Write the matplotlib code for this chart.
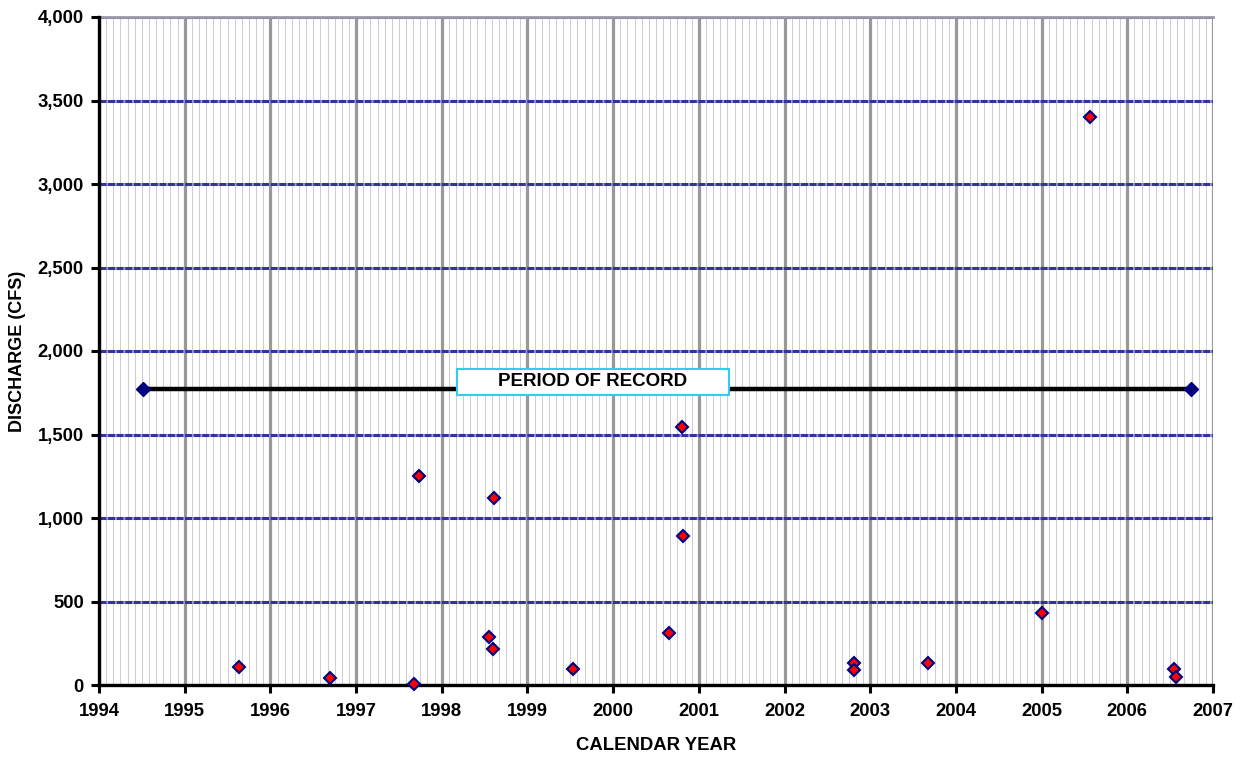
import matplotlib
matplotlib.use("Agg")
import matplotlib.pyplot as plt
from matplotlib.ticker import MultipleLocator, FuncFormatter
from matplotlib.patches import Rectangle

# ---- data ----
sample_year = [1995.63, 1996.70, 1997.68, 1997.74, 1998.55, 1998.60, 1998.61,
               1999.53, 2000.65, 2000.80, 2000.82, 2002.81, 2002.81, 2003.67,
               2005.00, 2005.57, 2006.54, 2006.57]
discharge = [106, 44, 6, 1251, 288, 216, 1117,
             96, 311, 1545, 892, 132, 90, 132,
             431, 3400, 96, 46]
record_years = [1994.51, 2006.74]
record_level = [1775, 1775]
record_label = "PERIOD OF RECORD"
x_label = "CALENDAR YEAR"
y_label = "DISCHARGE (CFS)"
x_min, x_max = 1994, 2007
y_min, y_max = 0, 4000

plt.rcParams['font.family'] = ['Liberation Sans', 'DejaVu Sans']
plt.rcParams['font.weight'] = 'bold'

fig = plt.figure(figsize=(12.44, 7.59), dpi=100)
ax = fig.add_axes([99/1244, 74/759, (1213-99)/1244, (685-17)/759])

ax.set_xlim(x_min, x_max)
ax.set_ylim(y_min, y_max)

# grid
ax.xaxis.set_major_locator(MultipleLocator(1))
ax.xaxis.set_minor_locator(MultipleLocator(1/12))
ax.yaxis.set_major_locator(MultipleLocator(500))
ax.grid(which='minor', axis='x', color='#cfcfcf', lw=0.75, zorder=0)
ax.grid(which='major', axis='x', color='#999999', lw=2.3, zorder=1)
ax.grid(which='major', axis='y', color='#333399', lw=2.2, dashes=(2.3, 0.5),
        gapcolor='#9a9ac4', zorder=2)
ax.set_axisbelow(True)

for s in ['top', 'right']:
    ax.spines[s].set_visible(False)
for s in ['left', 'bottom']:
    ax.spines[s].set_linewidth(2.4)
    ax.spines[s].set_color('black')
    ax.spines[s].set_zorder(5)
# top border line
ax.axhline(y_max, color='#9999aa', lw=2.0, zorder=1.5, clip_on=False)

ax.yaxis.set_major_formatter(FuncFormatter(lambda v, p: f"{int(v):,}"))
ax.tick_params(axis='both', which='major', direction='out', length=6, width=2.2,
               labelsize=13.3, color='black')
ax.tick_params(axis='x', which='major', pad=7)
ax.tick_params(axis='y', which='major', pad=5)
ax.tick_params(axis='x', which='minor', length=0)
for lab in ax.get_xticklabels() + ax.get_yticklabels():
    lab.set_fontweight('bold')

# period of record line
ax.plot(record_years, record_level, color='black', lw=3.2, zorder=6,
        solid_capstyle='butt')
ax.plot(record_years, record_level, ls='none', marker='D', ms=7.6,
        mfc='#000080', mec='#000080', zorder=7)

# label box
bx0, bx1 = 1998.18, 2001.35
by0, by1 = 1738, 1894
ax.add_patch(Rectangle((bx0, by0), bx1 - bx0, by1 - by0, fc='white',
                       ec='#33ccee', lw=1.5, zorder=8))
ax.text((bx0 + bx1) / 2, (by0 + by1) / 2, record_label, ha='center', va='center',
        fontsize=13.5, fontweight='bold', zorder=9)

# measurements
ax.plot(sample_year, discharge, ls='none', marker='D', ms=6.0,
        mfc='#ff0000', mec='#000080', mew=1.5, zorder=10, clip_on=False)

fig.text(656/1244, 1 - 746/759, x_label, ha='center', va='center',
         fontsize=13.3, fontweight='bold')
fig.text(18/1244, 1 - 351/759, y_label, ha='center', va='center', rotation=90,
         fontsize=13, fontweight='bold')

fig.savefig('out.png', dpi=100)
